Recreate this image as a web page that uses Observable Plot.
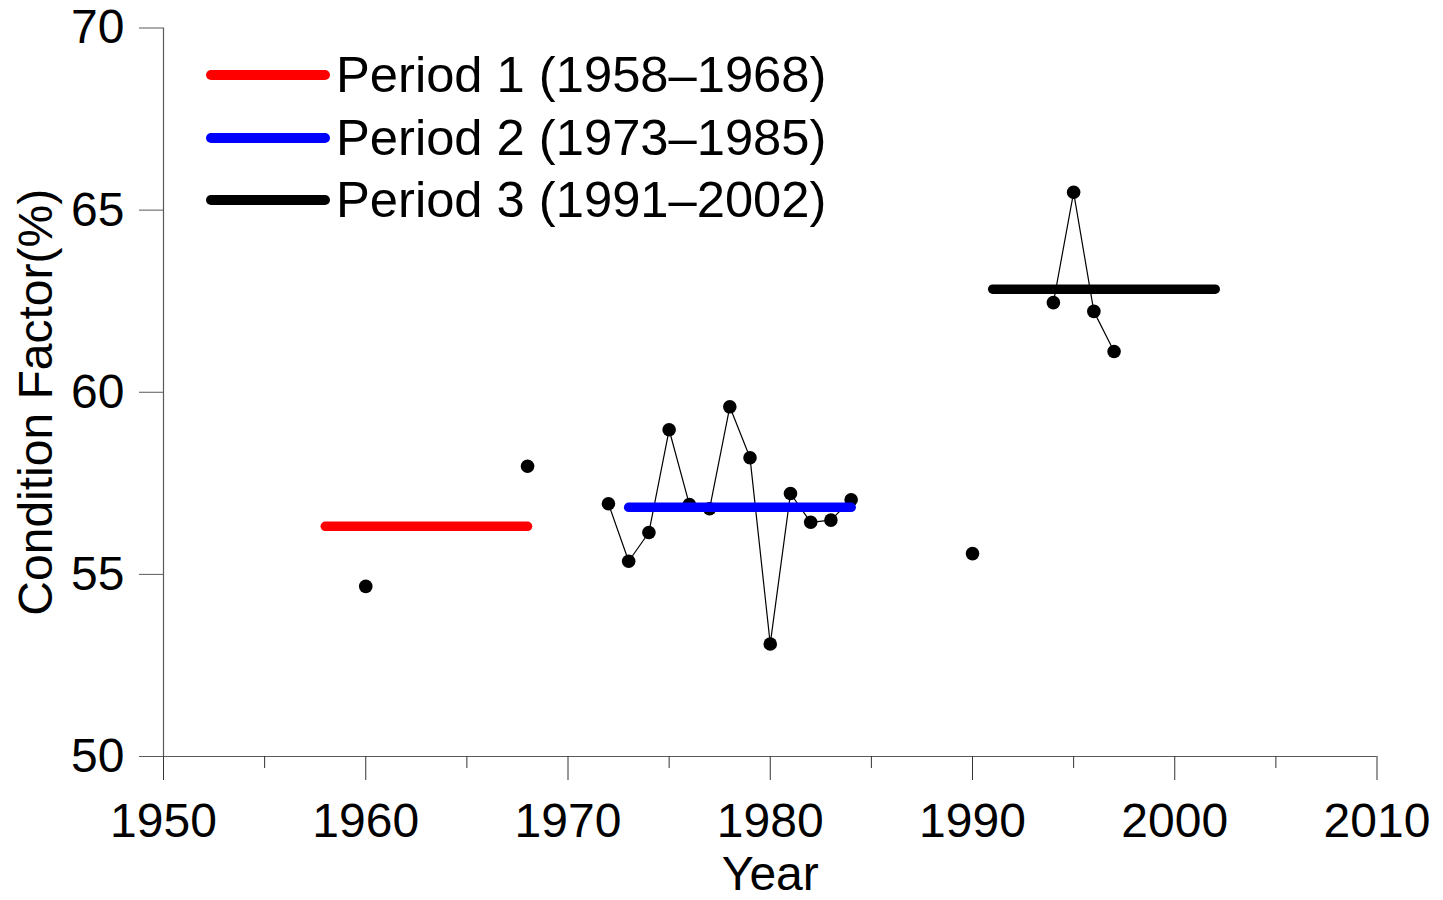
<!DOCTYPE html>
<html>
<head>
<meta charset="utf-8">
<script src="https://cdn.jsdelivr.net/npm/d3@7"></script>
<script src="https://cdn.jsdelivr.net/npm/@observablehq/plot@0.6"></script>
<style>
  html, body { margin: 0; padding: 0; background: #fff; }
  #chart { position: relative; width: 1443px; height: 900px; font-family: "Liberation Sans", Arial, sans-serif; }
  #chart svg { position: absolute; left: 0; top: 0; }
  .legend-row { position: absolute; left: 206px; height: 50px; display: flex; align-items: center; }
  .legend-swatch { width: 124px; height: 10px; border-radius: 5px; }
  .legend-text { margin-left: 6px; font-size: 50.7px; line-height: 50px; color: #000; white-space: nowrap; }
</style>
</head>
<body>
<div id="chart"></div>
<script>
// Annual condition factor (%)
const years = [1960, 1968, 1972, 1973, 1974, 1975, 1976, 1977, 1978, 1979, 1980, 1981, 1982, 1983, 1984, 1990, 1994, 1995, 1996, 1997];
const condition = [54.67, 57.97, 56.94, 55.36, 56.15, 58.97, 56.92, 56.80, 59.60, 58.20, 53.09, 57.22, 56.43, 56.49, 57.05, 55.57, 62.46, 65.49, 62.22, 61.12];

// Period means, drawn as horizontal segments
const periodLabels = ["Period 1 (1958\u20131968)", "Period 2 (1973\u20131985)", "Period 3 (1991\u20132002)"];
const periodFrom = [1958, 1973, 1991];
const periodTo = [1968, 1984, 2002];
const periodMean = [56.32, 56.84, 62.83];
const periodColors = ["#ff0000", "#0000ff", "#000000"];

// Axis ticks
const yTicks = [50, 55, 60, 65, 70];
const xTicks = [1950, 1960, 1970, 1980, 1990, 2000, 2010];
const xMinorTicks = [1955, 1965, 1975, 1985, 1995, 2005];

// Consecutive years are joined by a line; a gap in the years starts a new run
let run = 0;
const observations = years.map((year, i) => {
  if (i > 0 && year - years[i - 1] > 1) run++;
  return {year, value: condition[i], run};
});

const periods = periodLabels.map((label, i) => ({
  label, from: periodFrom[i], to: periodTo[i], mean: periodMean[i], color: periodColors[i]
}));

const font = "'Liberation Sans', Arial, sans-serif";
const axisGray = "#5a5a5a";

const chart = Plot.plot({
  width: 1443,
  height: 900,
  marginLeft: 163,
  marginRight: 66.5,
  marginTop: 27.5,
  marginBottom: 144,
  x: {domain: [1950, 2010]},
  y: {domain: [50, 70]},
  color: {type: "identity"},
  style: {fontFamily: font, background: "transparent", overflow: "visible"},
  marks: [
    Plot.ruleY([50], {stroke: axisGray, strokeWidth: 1.2}),
    Plot.ruleX([1950], {stroke: axisGray, strokeWidth: 1.2}),
    Plot.axisY({ticks: yTicks, tickSize: 24, tickPadding: 15, fontSize: 48, stroke: axisGray, fill: "#000", label: null, tickFormat: d => String(d)}),
    Plot.axisX({ticks: xTicks, tickSize: 24, tickPadding: 22, fontSize: 48, stroke: "#333", fill: "#000", label: null, tickFormat: d => String(d)}),
    Plot.axisX({ticks: xMinorTicks, tickSize: 12, stroke: "#333", label: null, tickFormat: () => ""}),
    Plot.line(observations, {x: "year", y: "value", z: "run", stroke: "#000", strokeWidth: 1.2}),
    Plot.dot(observations, {x: "year", y: "value", r: 6.8, fill: "#000", stroke: "none"}),
    Plot.link(periods, {x1: "from", x2: "to", y1: "mean", y2: "mean", stroke: "color", strokeWidth: 9.5, strokeLinecap: "round"}),
    Plot.text(["Year"], {text: d => d, frameAnchor: "bottom", lineAnchor: "bottom", dy: 133, fontSize: 48, fill: "#000"}),
    Plot.text(["Condition Factor(%)"], {text: d => d, frameAnchor: "left", textAnchor: "middle", rotate: -90, lineAnchor: "bottom", dx: -111.5, dy: 10, fontSize: 48, fill: "#000"})
  ]
});

const container = document.getElementById("chart");
container.appendChild(chart);

// Legend for the period means, laid over the upper-left of the plot
const rowCenters = [75, 137.5, 200];
periods.forEach((p, i) => {
  const row = document.createElement("div");
  row.className = "legend-row";
  row.style.top = (rowCenters[i] - 25) + "px";
  const swatch = document.createElement("span");
  swatch.className = "legend-swatch";
  swatch.style.background = p.color;
  const text = document.createElement("span");
  text.className = "legend-text";
  text.textContent = p.label;
  row.appendChild(swatch);
  row.appendChild(text);
  container.appendChild(row);
});
</script>
</body>
</html>
